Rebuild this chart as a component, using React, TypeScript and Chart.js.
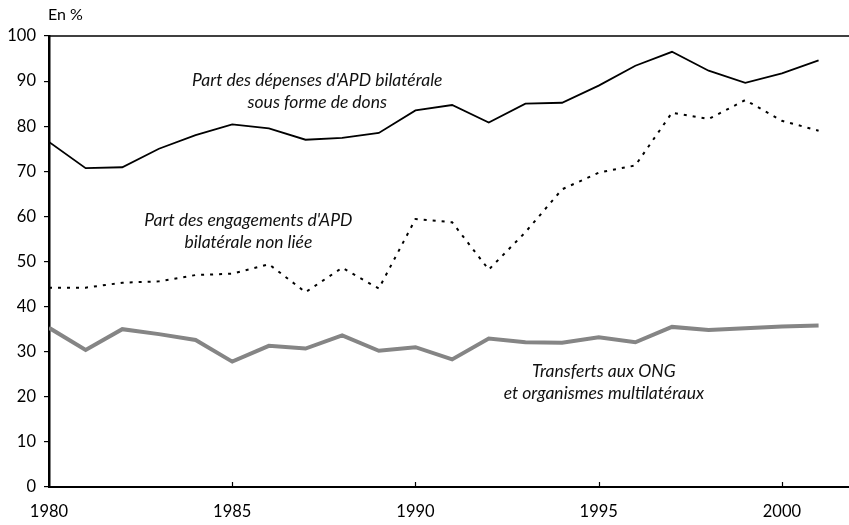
import React, { useEffect, useRef } from "react";
import { Chart, registerables } from "chart.js";

Chart.register(...registerables);

const years = [1980, 1981, 1982, 1983, 1984, 1985, 1986, 1987, 1988, 1989, 1990, 1991, 1992, 1993, 1994, 1995, 1996, 1997, 1998, 1999, 2000, 2001];
const donsValues = [76.5, 70.7, 70.9, 75.0, 78.0, 80.4, 79.5, 77.0, 77.4, 78.5, 83.5, 84.7, 80.8, 85.0, 85.2, 89.0, 93.4, 96.5, 92.3, 89.6, 91.7, 94.6];
const nonLieeValues = [44.2, 44.2, 45.3, 45.6, 47.0, 47.3, 49.4, 43.2, 48.6, 44.0, 59.4, 58.7, 48.2, 56.5, 66.0, 69.7, 71.3, 83.0, 81.6, 85.8, 81.2, 79.0];
const ongValues = [35.3, 30.4, 35.0, 33.9, 32.6, 27.8, 31.3, 30.7, 33.6, 30.2, 31.0, 28.3, 32.9, 32.1, 32.0, 33.2, 32.1, 35.5, 34.8, 35.2, 35.6, 35.8];
const yTicks = [0, 10, 20, 30, 40, 50, 60, 70, 80, 90, 100];
const xTicks = [1980, 1985, 1990, 1995, 2000];
const unitLabel = "En %";
const annotations = [
  { lines: ["Part des dépenses d'APD bilatérale", "sous forme de dons"], x: 1987.32, y: 90.2 },
  { lines: ["Part des engagements d'APD", "bilatérale non liée"], x: 1985.44, y: 59.2 },
  { lines: ["Transferts aux ONG", "et organismes multilatéraux"], x: 1995.14, y: 25.7 },
];

const FONT = "Lato, 'Open Sans', 'DejaVu Sans', sans-serif";

export default function App() {
  const ref = useRef<HTMLCanvasElement | null>(null);

  useEffect(() => {
    const canvas = ref.current;
    if (!canvas) return;

    const decorPlugin = {
      id: "decor",
      afterDraw(chart: any) {
        const ctx = chart.ctx;
        const { left, right, top, bottom } = chart.chartArea;
        const xs = chart.scales.x;
        const ys = chart.scales.y;
        ctx.save();
        ctx.strokeStyle = "#000";
        ctx.lineWidth = 1.5;
        ctx.beginPath();
        ctx.moveTo(left, top);
        ctx.lineTo(right, top);
        ctx.stroke();
        ctx.lineWidth = 1.2;
        for (const t of xTicks) {
          if (t === xTicks[0]) continue;
          const px = Math.round(xs.getPixelForValue(t)) + 0.5;
          ctx.beginPath();
          ctx.moveTo(px, bottom);
          ctx.lineTo(px, bottom - 5);
          ctx.stroke();
        }
        ctx.fillStyle = "#000";
        ctx.font = `16px ${FONT}`;
        ctx.textAlign = "left";
        ctx.textBaseline = "middle";
        ctx.fillText(unitLabel, 48, 15);
        ctx.fillStyle = "#111";
        ctx.font = `italic 17.5px ${FONT}`;
        ctx.textAlign = "center";
        for (const a of annotations) {
          const px = xs.getPixelForValue(a.x);
          const py = ys.getPixelForValue(a.y);
          a.lines.forEach((l, i) => ctx.fillText(l, px, py + i * 22.5));
        }
        ctx.restore();
      },
    };

    const chart = new Chart(canvas, {
      type: "line",
      data: {
        datasets: [
          {
            label: "Dons",
            data: years.map((y, i) => ({ x: y, y: donsValues[i] })),
            borderColor: "#000",
            borderWidth: 1.8,
            pointRadius: 0,
            tension: 0,
          },
          {
            label: "Non liée",
            data: years.map((y, i) => ({ x: y, y: nonLieeValues[i] })),
            borderColor: "#000",
            borderWidth: 2,
            borderDash: [3, 6],
            pointRadius: 0,
            tension: 0,
          },
          {
            label: "ONG",
            data: years.map((y, i) => ({ x: y, y: ongValues[i] })),
            borderColor: "#858585",
            borderWidth: 4,
            pointRadius: 0,
            tension: 0,
          },
        ],
      },
      options: {
        animation: false,
        responsive: false,
        devicePixelRatio: 1,
        layout: { padding: { top: 36, left: 0, right: 0, bottom: 0 } },
        plugins: { legend: { display: false }, tooltip: { enabled: false } },
        scales: {
          x: {
            type: "linear",
            min: 1980,
            max: 2001.83,
            afterBuildTicks: (s: any) => {
              s.ticks = xTicks.map((v) => ({ value: v }));
            },
            afterFit: (s: any) => {
              s.height = 38;
            },
            grid: { display: true, drawOnChartArea: false, drawTicks: false },
            border: { display: true, color: "#000", width: 2 },
            ticks: {
              color: "#000",
              font: { family: FONT, size: 16.5 },
              padding: 15,
              maxRotation: 0,
              autoSkip: false,
              callback: (v: any) => String(v),
            },
          },
          y: {
            type: "linear",
            min: 0,
            max: 100,
            afterBuildTicks: (s: any) => {
              s.ticks = yTicks.map((v) => ({ value: v }));
            },
            afterFit: (s: any) => {
              s.width = 49;
            },
            grid: { display: true, drawOnChartArea: false, drawTicks: true, tickLength: 5, color: "#000", lineWidth: 1.2 },
            border: { display: true, color: "#000", width: 2.5 },
            ticks: {
              color: "#000",
              font: { family: FONT, size: 16.5 },
              padding: 8,
              autoSkip: false,
            },
          },
        },
      },
      plugins: [decorPlugin],
    });
    return () => chart.destroy();
  }, []);

  return (
    <div style={{ position: "absolute", left: 0, top: 0, width: 849, height: 525, background: "#fff" }}>
      <canvas ref={ref} width={849} height={525} style={{ width: 849, height: 525, display: "block" }} />
    </div>
  );
}
